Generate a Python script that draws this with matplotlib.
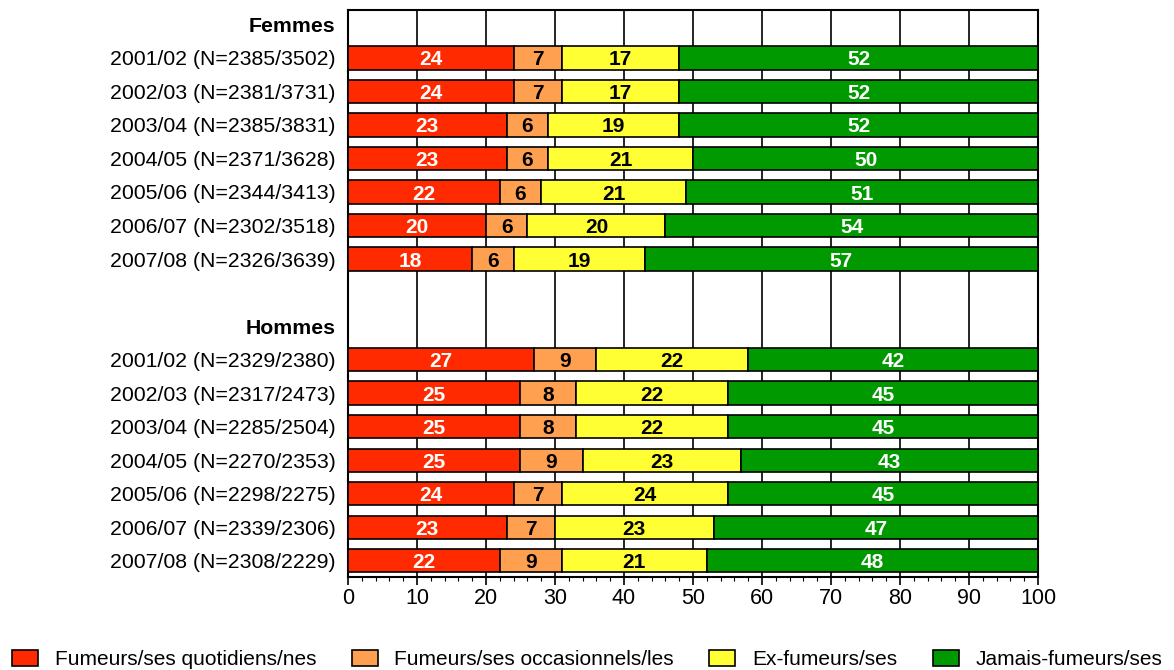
import matplotlib
matplotlib.use("Agg")
import matplotlib.pyplot as plt
from matplotlib.ticker import MultipleLocator
from matplotlib.patches import Patch

plt.rcParams['font.family'] = ['Liberation Sans', 'DejaVu Sans']

# Données (pourcentages)
years = ['2001/02', '2002/03', '2003/04', '2004/05', '2005/06', '2006/07', '2007/08']
n_femmes = ['2385/3502', '2381/3731', '2385/3831', '2371/3628', '2344/3413', '2302/3518', '2326/3639']
n_hommes = ['2329/2380', '2317/2473', '2285/2504', '2270/2353', '2298/2275', '2339/2306', '2308/2229']

quotidiens_f = [24, 24, 23, 23, 22, 20, 18]
occasionnels_f = [7, 7, 6, 6, 6, 6, 6]
ex_f = [17, 17, 19, 21, 21, 20, 19]
jamais_f = [52, 52, 52, 50, 51, 54, 57]

quotidiens_h = [27, 25, 25, 25, 24, 23, 22]
occasionnels_h = [9, 8, 8, 9, 7, 7, 9]
ex_h = [22, 22, 22, 23, 24, 23, 21]
jamais_h = [42, 45, 45, 43, 45, 47, 48]

categories = ['Fumeurs/ses quotidiens/nes', 'Fumeurs/ses occasionnels/les',
              'Ex-fumeurs/ses', 'Jamais-fumeurs/ses']
colors = ['#FF2A00', '#FFA050', '#FFFF33', '#009900']
text_colors = ['white', 'black', 'black', 'white']

# positions: 0 = en-tête Femmes, 1..7 barres, 9 = en-tête Hommes, 10..16 barres
pos_f = list(range(1, 8))
pos_h = list(range(10, 17))

fig = plt.figure(figsize=(11.74, 6.70), dpi=100)
ax = fig.add_axes([0.2964, 0.1388, 0.5878, 0.8462])

for pos, series in [(pos_f, [quotidiens_f, occasionnels_f, ex_f, jamais_f]),
                    (pos_h, [quotidiens_h, occasionnels_h, ex_h, jamais_h])]:
    left = [0] * len(pos)
    for k, vals in enumerate(series):
        ax.barh(pos, vals, left=left, height=0.69, color=colors[k],
                edgecolor='black', linewidth=1.2, zorder=3)
        for p, l, v in zip(pos, left, vals):
            ax.text(l + v / 2, p + 0.06, str(v), ha='center', va='center',
                    color=text_colors[k], fontsize=15, fontweight='bold', zorder=4)
        left = [l + v for l, v in zip(left, vals)]

ticks = [0] + pos_f + [9] + pos_h
labels = ['Femmes'] + [f'{y} (N={n})' for y, n in zip(years, n_femmes)] + \
         ['Hommes'] + [f'{y} (N={n})' for y, n in zip(years, n_hommes)]
ax.set_yticks(ticks)
ax.set_yticklabels(labels, fontsize=15.3)
for t in ax.get_yticklabels():
    if t.get_text() in ('Femmes', 'Hommes'):
        t.set_fontweight('bold')
ax.tick_params(axis='y', length=0, pad=9)

ax.set_xlim(0, 100)
ax.set_ylim(16.49, -0.43)
ax.xaxis.set_major_locator(MultipleLocator(10))
ax.xaxis.set_minor_locator(MultipleLocator(2))
ax.tick_params(axis='x', which='major', length=6, width=1.2, labelsize=15.5,
               direction='out', pad=2)
ax.tick_params(axis='x', which='minor', length=3, width=0.8)
ax.grid(axis='x', color='black', linewidth=1.2, zorder=0)
ax.set_axisbelow(True)
for s in ax.spines.values():
    s.set_linewidth(1.5)

handles = [Patch(facecolor=c, edgecolor='black', linewidth=1.2) for c in colors]
fig.legend(handles, categories, loc='lower center', ncol=4, frameon=False,
           fontsize=15, bbox_to_anchor=(0.5, -0.027), handlelength=1.25,
           handleheight=0.8, handletextpad=0.8, columnspacing=1.7)

fig.savefig('out.png', dpi=100)
